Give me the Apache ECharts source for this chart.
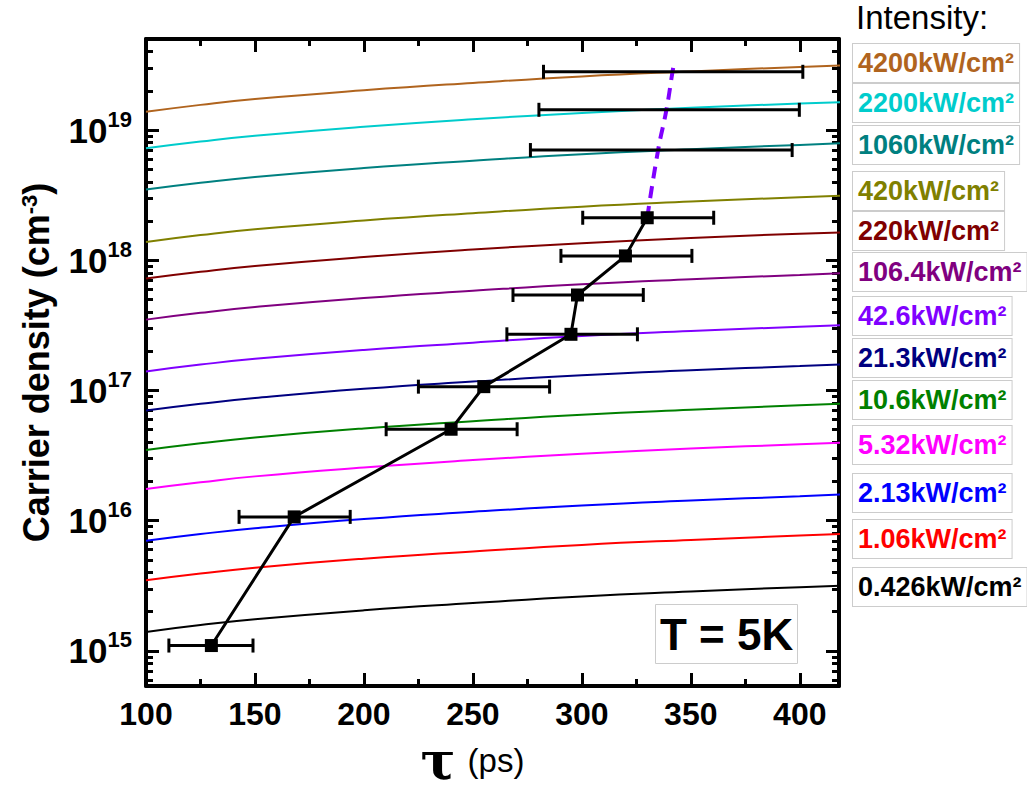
<!DOCTYPE html>
<html><head><meta charset="utf-8">
<script src="https://cdn.jsdelivr.net/npm/echarts@6/dist/echarts.min.js"></script>
<style>html,body{margin:0;padding:0;background:#fff;overflow:hidden}#c{width:1027px;height:791px}</style>
</head><body><div id="c"></div>
<script>
// ---- data ----
const tauGrid = [100, 125, 150, 200, 250, 300, 350, 400, 420];
const intensityLabels = ['4200kW/cm²','2200kW/cm²','1060kW/cm²','420kW/cm²','220kW/cm²','106.4kW/cm²','42.6kW/cm²','21.3kW/cm²','10.6kW/cm²','5.32kW/cm²','2.13kW/cm²','1.06kW/cm²','0.426kW/cm²'];
const curve4200 = [1.38e19, 1.56e19, 1.73e19, 2.02e19, 2.30e19, 2.58e19, 2.82e19, 3.05e19, 3.14e19];
const curve2200 = [7.24e18, 8.16e18, 9.04e18, 1.06e19, 1.21e19, 1.35e19, 1.48e19, 1.60e19, 1.64e19];
const curve1060 = [3.49e18, 3.93e18, 4.36e18, 5.11e18, 5.81e18, 6.52e18, 7.12e18, 7.69e18, 7.92e18];
const curve420  = [1.38e18, 1.56e18, 1.73e18, 2.02e18, 2.30e18, 2.58e18, 2.82e18, 3.05e18, 3.14e18];
const curve220  = [7.24e17, 8.16e17, 9.04e17, 1.06e18, 1.21e18, 1.35e18, 1.48e18, 1.60e18, 1.64e18];
const curve106  = [3.50e17, 3.95e17, 4.37e17, 5.13e17, 5.83e17, 6.54e17, 7.15e17, 7.71e17, 7.95e17];
const curve42   = [1.40e17, 1.58e17, 1.75e17, 2.05e17, 2.33e17, 2.62e17, 2.86e17, 3.09e17, 3.18e17];
const curve21   = [7.01e16, 7.90e16, 8.75e16, 1.03e17, 1.17e17, 1.31e17, 1.43e17, 1.54e17, 1.59e17];
const curve10   = [3.49e16, 3.93e16, 4.36e16, 5.11e16, 5.81e16, 6.52e16, 7.12e16, 7.69e16, 7.92e16];
const curve5    = [1.75e16, 1.97e16, 2.19e16, 2.56e16, 2.92e16, 3.27e16, 3.58e16, 3.86e16, 3.97e16];
const curve2    = [7.01e15, 7.90e15, 8.75e15, 1.03e16, 1.17e16, 1.31e16, 1.43e16, 1.54e16, 1.59e16];
const curve1    = [3.49e15, 3.93e15, 4.36e15, 5.11e15, 5.81e15, 6.52e15, 7.12e15, 7.69e15, 7.92e15];
const curve04   = [1.40e15, 1.58e15, 1.75e15, 2.05e15, 2.33e15, 2.62e15, 2.86e15, 3.09e15, 3.18e15];

const pointTau     = [130, 168, 240, 255, 295, 298, 320, 330];
const pointDensity = [1.1e15, 1.07e16, 5.04e16, 1.07e17, 2.70e17, 5.41e17, 1.08e18, 2.12e18];

const errTau     = [130, 168, 240, 255, 295, 298, 320, 330, 336.5, 340, 341.5];
const errDensity = [1.1e15, 1.07e16, 5.04e16, 1.07e17, 2.70e17, 5.41e17, 1.08e18, 2.12e18, 7.02e18, 1.43e19, 2.80e19];
const errLow     = [110.5, 142.7, 210.2, 225, 265.6, 268.4, 290.4, 300.4, 276.4, 280.3, 282.4];
const errHigh    = [149.1, 193.7, 270.3, 285.2, 325.5, 328.2, 350.5, 360.5, 396.5, 399.8, 401.4];

const dashTau     = [330, 335, 338.8, 341.6, 342.2];
const dashDensity = [2.12e18, 7.02e18, 1.43e19, 2.80e19, 3.2e19];

const xTickLabels = [100, 150, 200, 250, 300, 350, 400];
const xMinorTicks = [125, 175, 225, 275, 325, 375];
const yTickLabels = [1e15, 1e16, 1e17, 1e18, 1e19];

// ---- styles / layout ----
const curves = [curve4200, curve2200, curve1060, curve420, curve220, curve106, curve42, curve21, curve10, curve5, curve2, curve1, curve04];
const curveColors = ['#B0641E','#00CCCC','#008080','#808000','#800000','#800080','#8000FF','#000080','#008000','#FF00FF','#0000FF','#FF0000','#000000'];
const legendTops = [43, 83, 125, 171, 211, 252, 296, 338, 380, 425, 473, 519, 567];
const FONT = "'Liberation Sans', Arial, sans-serif";
const X_MIN = 100, X_MAX = 418, Y_MIN = 5.38e14, Y_MAX = 5.0e19;

const yMinor = [];
for (let e = 14; e <= 19; e++) for (let m = 2; m <= 9; m++) {
  const v = m * Math.pow(10, e);
  if (v > Y_MIN * 1.001 && v < Y_MAX * 0.999) yMinor.push(v);
}

const chart = echarts.init(document.getElementById('c'), null, {renderer: 'svg'});

function xAx(pos, major) {
  return {
    type: 'value', position: pos, min: X_MIN, max: X_MAX, interval: 50, gridIndex: 0,
    splitLine: {show: false},
    axisLine: {show: major, onZero: false, lineStyle: {color: '#000', width: 4}},
    axisTick: {show: true, inside: true, length: major ? 13 : 7, customValues: major ? xTickLabels : xMinorTicks,
               lineStyle: {color: '#000', width: 3}},
    axisLabel: {show: major && pos === 'bottom', customValues: xTickLabels, margin: 12, color: '#000',
                fontSize: 32, fontWeight: 'bold', fontFamily: FONT},
  };
}
function yAx(pos, major) {
  return {
    type: 'log', logBase: 10, position: pos, min: Y_MIN, max: Y_MAX, gridIndex: 0,
    splitLine: {show: false},
    axisLine: {show: major, onZero: false, lineStyle: {color: '#000', width: 4}},
    axisTick: {show: true, inside: true, length: major ? 13 : 7, customValues: major ? yTickLabels : yMinor,
               lineStyle: {color: '#000', width: 3}},
    axisLabel: {show: major && pos === 'left', customValues: yTickLabels, margin: 14,
      formatter: v => '{b|10}{s|' + Math.round(Math.log10(v)) + '}',
      rich: {
        b: {fontSize: 35, fontWeight: 'bold', fontFamily: FONT, color: '#000', lineHeight: 44},
        s: {fontSize: 22, fontWeight: 'bold', fontFamily: FONT, color: '#000', lineHeight: 22, verticalAlign: 'top'}
      }}
  };
}

const xAxes = [xAx('bottom', true), xAx('bottom', false), xAx('top', true), xAx('top', false)];
const yAxes = [yAx('left', true), yAx('left', false), yAx('right', true), yAx('right', false)];
xAxes[0].name = '{t|τ}{p|(ps)}';
xAxes[0].nameLocation = 'middle';
xAxes[0].nameGap = 52;
xAxes[0].nameTextStyle = {verticalAlign: 'top', rich: {
  t: {fontSize: 52, fontWeight: 'bold', fontFamily: "'DejaVu Serif', serif", color: '#000', lineHeight: 42},
  p: {fontSize: 33, fontFamily: FONT, color: '#000', lineHeight: 42, padding: [0, 40, 0, 12]}
}};
yAxes[0].name = 'Carrier density (cm{s|-3})';
yAxes[0].nameLocation = 'middle';
yAxes[0].nameRotate = 90;
yAxes[0].nameGap = 92;
yAxes[0].nameTextStyle = {fontSize: 36, fontWeight: 'bold', fontFamily: FONT, color: '#000', rich: {
  s: {fontSize: 22, fontWeight: 'bold', fontFamily: FONT, color: '#000', verticalAlign: 'top', lineHeight: 22}
}};

const series = [];
curves.forEach((arr, i) => {
  series.push({
    name: intensityLabels[i], type: 'line', xAxisIndex: 0, yAxisIndex: 0,
    data: tauGrid.map((t, j) => [t, arr[j]]), smooth: true, showSymbol: false, silent: true,
    lineStyle: {color: curveColors[i], width: 2}, itemStyle: {color: curveColors[i]}, z: 2
  });
});
series.push({
  name: 'dash', type: 'line', data: dashTau.map((t, i) => [t, dashDensity[i]]), smooth: true, showSymbol: false,
  lineStyle: {color: '#8000FF', width: 4, type: [12, 8]}, z: 3, silent: true
});
series.push({
  name: 'errors', type: 'custom', z: 4, silent: true,
  data: errTau.map((t, i) => [t, errLow[i], errHigh[i], errDensity[i]]),
  encode: {x: [1, 2], y: 3},
  renderItem: (params, api) => {
    const y = api.value(3);
    const a = api.coord([api.value(1), y]);
    const b = api.coord([api.value(2), y]);
    const cap = 7;
    const st = {stroke: '#000', lineWidth: 3};
    return {type: 'group', children: [
      {type: 'line', shape: {x1: a[0], y1: a[1], x2: b[0], y2: b[1]}, style: st},
      {type: 'line', shape: {x1: a[0], y1: a[1] - cap, x2: a[0], y2: a[1] + cap}, style: st},
      {type: 'line', shape: {x1: b[0], y1: b[1] - cap, x2: b[0], y2: b[1] + cap}, style: st}
    ]};
  }
});
series.push({
  name: 'points', type: 'line', data: pointTau.map((t, i) => [t, pointDensity[i]]),
  symbol: 'rect', symbolSize: 13, showSymbol: true, z: 5, silent: true,
  lineStyle: {color: '#000', width: 3}, itemStyle: {color: '#000'}
});

const legends = intensityLabels.map((name, i) => ({
  left: 848, top: legendTops[i], orient: 'vertical', padding: 0, icon: 'none', itemWidth: 0, itemHeight: 10,
  selectedMode: false,
  data: [{name: name, textStyle: {color: curveColors[i]}}],
  textStyle: {fontSize: 27, fontWeight: 'bold', fontFamily: FONT, lineHeight: 31,
              borderColor: '#cccccc', borderWidth: 1, padding: [4, 5, 3, 5], backgroundColor: '#fff'}
}));

chart.setOption({
  animation: false,
  backgroundColor: '#fff',
  grid: {left: 146, right: 188, top: 39, bottom: 105, containLabel: false, outerBoundsMode: 'none'},
  title: [
    {text: 'Intensity:', left: 856, top: 1, padding: 0,
     textStyle: {fontSize: 33, fontWeight: 'normal', fontFamily: FONT, color: '#000'}},
    {text: 'T = 5K', left: 655, top: 604, padding: [6, 4, 6, 5], borderColor: '#cccccc', borderWidth: 1,
     textStyle: {fontSize: 44, fontWeight: 'bold', fontFamily: FONT, color: '#000', lineHeight: 48}}
  ],
  legend: legends,
  xAxis: xAxes,
  yAxis: yAxes,
  series: series
});
</script></body></html>
